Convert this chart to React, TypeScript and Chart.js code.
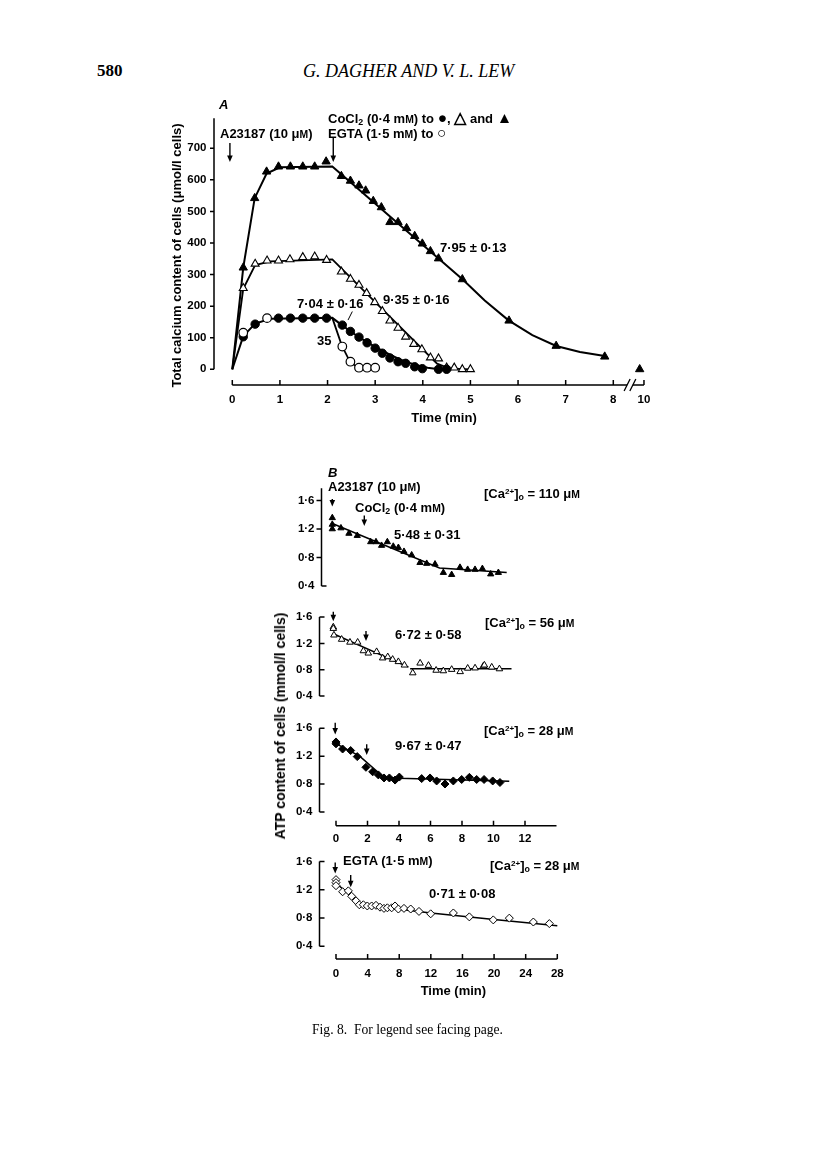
import React, { useEffect, useRef } from 'react';
import { Chart, registerables } from 'chart.js';
Chart.register(...registerables);

const SANS = '"Liberation Sans", Arial, sans-serif';
const SERIF = '"Liberation Serif", "Times New Roman", serif';

// ---------------- Panel A data (time in min, total Ca in µmol/l cells) ----------------
const aTriFilledTime = [0.23, 0.47, 0.72, 0.97, 1.22, 1.48, 1.73, 1.97, 2.29, 2.48, 2.66, 2.8, 2.96, 3.13, 3.31, 3.48, 3.66, 3.83, 3.99, 4.16, 4.33, 4.83, 5.81, 6.8, 7.82, 9.9];
const aTriFilledCa = [322, 542, 626, 642, 642, 642, 642, 658, 612, 597, 582, 566, 533, 513, 466, 466, 447, 422, 398, 374, 351, 285, 154, 74, 40, 0];
const aTriOpenTime = [0.23, 0.48, 0.73, 0.97, 1.21, 1.48, 1.73, 1.98, 2.29, 2.48, 2.66, 2.82, 2.99, 3.15, 3.31, 3.48, 3.64, 3.81, 3.98, 4.16, 4.33, 4.5, 4.66, 4.83, 5.0];
const aTriOpenCa = [257, 334, 344, 344, 348, 355, 357, 346, 309, 286, 267, 241, 212, 184, 154, 131, 103, 80, 63, 37, 34, 5, 5, 0, 0];
const aCircFilledTime = [0.23, 0.48, 0.97, 1.22, 1.48, 1.73, 1.98, 2.31, 2.48, 2.66, 2.83, 3.0, 3.15, 3.31, 3.48, 3.64, 3.83, 3.99, 4.33, 4.5];
const aCircFilledCa = [103, 143, 162, 162, 162, 162, 162, 140, 120, 102, 84, 67, 51, 36, 24, 19, 8, 2, 0, 0];
const aCircOpenTime = [0.23, 0.73, 2.31, 2.48, 2.66, 2.83, 3.0];
const aCircOpenCa = [116, 162, 72, 24, 5, 5, 5];

const aFitTriFilledTime = [0, 0.23, 0.47, 0.72, 1.0, 2.1, 4.33, 4.85, 5.3, 5.8, 6.3, 6.8, 7.3, 7.82];
const aFitTriFilledCa = [0, 322, 542, 620, 640, 642, 351, 283, 218, 155, 108, 74, 55, 42];
const aFitTriOpenTime = [0, 0.23, 0.48, 0.8, 2.1, 4.3, 4.55, 5.0];
const aFitTriOpenCa = [0, 255, 330, 342, 348, 18, 3, 0];
const aFitCircFilledTime = [0, 0.23, 0.48, 0.8, 2.1, 2.3, 2.5, 2.7, 2.9, 3.1, 3.3, 3.5, 3.7, 3.9, 4.1, 4.3, 4.5];
const aFitCircFilledCa = [0, 105, 145, 160, 163, 140, 118, 98, 80, 63, 47, 33, 21, 12, 5, 1, 0];
const aFitCircOpenTime = [2.1, 2.3, 2.45, 2.6, 2.75, 3.0];
const aFitCircOpenCa = [163, 75, 30, 8, 3, 3];
const aLeaderTime = [2.43, 2.52];
const aLeaderCa = [156, 183];

const aYTicks = [0, 100, 200, 300, 400, 500, 600, 700];
const aYTickLabels = ['0', '100', '200', '300', '400', '500', '600', '700'];
const aXTicks = [0, 1, 2, 3, 4, 5, 6, 7, 8, 10];
const aXTickLabels = ['0', '1', '2', '3', '4', '5', '6', '7', '8', '10'];

// ---------------- Panel B data (time in min, ATP in mmol/l cells) ----------------
const b1Time = [0, 0, 0, 0.54, 1.04, 1.56, 2.4, 2.73, 3.08, 3.44, 3.81, 4.13, 4.48, 4.96, 5.48, 5.9, 6.42, 6.94, 7.46, 7.98, 8.46, 8.92, 9.38, 9.9, 10.38];
const b1Atp = [1.356, 1.263, 1.2, 1.213, 1.137, 1.107, 1.019, 1.019, 0.968, 1.019, 0.956, 0.939, 0.884, 0.834, 0.728, 0.716, 0.707, 0.589, 0.56, 0.661, 0.632, 0.632, 0.644, 0.568, 0.589];
const b1FitTime = [0, 6.7, 10.9];
const b1FitAtp = [1.276, 0.655, 0.59];

const b2Time = [0, 0, 0.04, 0.51, 1.02, 1.49, 1.84, 2.14, 2.65, 3.02, 3.33, 3.63, 3.98, 4.35, 4.86, 5.31, 5.82, 6.29, 6.73, 7.24, 7.76, 8.22, 8.67, 9.18, 9.24, 9.69, 10.16];
const b2Atp = [1.448, 1.426, 1.326, 1.261, 1.217, 1.217, 1.087, 1.052, 1.074, 0.978, 0.996, 0.957, 0.922, 0.87, 0.752, 0.9, 0.865, 0.791, 0.783, 0.804, 0.77, 0.822, 0.826, 0.857, 0.87, 0.839, 0.813];
const b2FitSlopeTime = [0.1, 4.6];
const b2FitSlopeAtp = [1.335, 0.839];
const b2FitFlatTime = [4.7, 10.9];
const b2FitFlatAtp = [0.817, 0.817];

const b3Time = [0, 0, 0.42, 0.93, 1.35, 1.9, 2.33, 2.69, 3.05, 3.39, 3.75, 4.02, 5.44, 5.97, 6.39, 6.92, 7.45, 7.98, 8.47, 8.93, 9.4, 9.95, 10.41];
const b3Atp = [1.377, 1.404, 1.303, 1.281, 1.194, 1.041, 0.976, 0.932, 0.888, 0.888, 0.858, 0.901, 0.879, 0.888, 0.845, 0.801, 0.845, 0.866, 0.897, 0.866, 0.866, 0.845, 0.823];
const b3FitTime = [0, 1.5, 3.0, 4.0, 11.0];
const b3FitAtp = [1.38, 1.2, 0.905, 0.885, 0.84];

const b4Time = [0, 0, 0, 0.84, 1.56, 1.98, 2.53, 2.95, 3.46, 3.96, 4.51, 5.06, 5.57, 6.07, 6.5, 7.04, 7.47, 7.89, 8.6, 9.45, 10.5, 11.98, 14.85, 16.87, 19.9, 21.93, 24.97, 26.99];
const b4Atp = [1.343, 1.3, 1.257, 1.171, 1.184, 1.107, 1.043, 0.987, 0.987, 0.97, 0.97, 0.979, 0.953, 0.936, 0.944, 0.944, 0.97, 0.927, 0.936, 0.927, 0.893, 0.859, 0.871, 0.816, 0.773, 0.798, 0.743, 0.721];
const b4FitTime = [0, 1, 2, 3, 4, 6, 8, 12, 20, 28];
const b4FitAtp = [1.29, 1.2, 1.1, 1.0, 0.965, 0.945, 0.925, 0.87, 0.78, 0.69];

const bYTicks = [1.6, 1.2, 0.8, 0.4];
const bYTickLabels = ['1·6', '1·2', '0·8', '0·4'];
const b3XTicks = [0, 2, 4, 6, 8, 10, 12];
const b3XTickLabels = ['0', '2', '4', '6', '8', '10', '12'];
const b4XTicks = [0, 4, 8, 12, 16, 20, 24, 28];
const b4XTickLabels = ['0', '4', '8', '12', '16', '20', '24', '28'];

// broken time axis of panel A: 10 min sits just after 8 min
const toAxisA = (t: number) => (t <= 8.2 ? t : 8.644 - (10 - t) * 0.9);

// ---------------- helpers ----------------
type Cal = [number, number, number, number];
const valAt = (c: Cal, p: number) => c[1] + ((p - c[0]) * (c[3] - c[1])) / (c[2] - c[0]);
const pts = (xs: number[], ys: number[], map: (v: number) => number = (v) => v) =>
  xs.map((x, i) => ({ x: map(x), y: ys[i] }));

function markers(data: any[], style: string, filled: boolean, r: number, bw = 1) {
  return {
    data,
    showLine: false,
    pointStyle: style,
    pointRadius: r,
    pointHoverRadius: r,
    pointBackgroundColor: filled ? '#000' : '#fff',
    pointBorderColor: '#000',
    pointBorderWidth: bw,
    clip: false,
    order: 0,
  };
}
function fitLine(data: any[], w: number) {
  return {
    data,
    showLine: true,
    borderColor: '#000',
    borderWidth: w,
    pointRadius: 0,
    pointHoverRadius: 0,
    tension: 0,
    fill: false,
    clip: false,
    order: 1,
  };
}

interface PanelCfg {
  box: { left: number; top: number; width: number; height: number };
  area: { left: number; top: number; right: number; bottom: number };
  xCal: Cal;
  yCal: Cal;
  datasets: any[];
  yTicks: number[];
  yLabels: string[];
  yFont: number;
  yPad: number;
  yTitle?: { text: string; cx: number };
  xTicks?: number[];
  xLabels?: string[];
  xFont?: number;
  xPad?: number;
  xTitle?: { text: string; cy: number };
  yAxis: { from: number; to: number; len: number; dirs: number[] };
  xAxis?: { from: number; to: number; len: number; gap?: [number, number] };
  arrows: { x: number; y1: number; y2: number }[];
}

function makePlugin(cfg: PanelCfg) {
  return {
    id: 'paperAxes',
    afterDraw(chart: any) {
      const ctx = chart.ctx as CanvasRenderingContext2D;
      const xs = chart.scales.x;
      const ys = chart.scales.y;
      ctx.save();
      ctx.strokeStyle = '#000';
      ctx.fillStyle = '#000';
      ctx.lineWidth = 1.5;
      const ax = chart.chartArea.left;
      ctx.beginPath();
      ctx.moveTo(ax, ys.getPixelForValue(cfg.yAxis.from));
      ctx.lineTo(ax, ys.getPixelForValue(cfg.yAxis.to));
      cfg.yTicks.forEach((t, i) => {
        const py = ys.getPixelForValue(t);
        ctx.moveTo(ax, py);
        ctx.lineTo(ax + cfg.yAxis.dirs[i] * cfg.yAxis.len, py);
      });
      ctx.stroke();
      if (cfg.xAxis && cfg.xTicks) {
        const ay = chart.chartArea.bottom;
        const xa = cfg.xAxis;
        ctx.beginPath();
        if (xa.gap) {
          ctx.moveTo(xs.getPixelForValue(xa.from), ay);
          ctx.lineTo(xs.getPixelForValue(xa.gap[0]), ay);
          ctx.moveTo(xs.getPixelForValue(xa.gap[1]), ay);
          ctx.lineTo(xs.getPixelForValue(xa.to), ay);
        } else {
          ctx.moveTo(xs.getPixelForValue(xa.from), ay);
          ctx.lineTo(xs.getPixelForValue(xa.to), ay);
        }
        cfg.xTicks.forEach((t) => {
          const px = xs.getPixelForValue(t);
          ctx.moveTo(px, ay);
          ctx.lineTo(px, ay - xa.len);
        });
        ctx.stroke();
        if (xa.gap) {
          ctx.lineWidth = 1.3;
          ctx.beginPath();
          xa.gap.forEach((g) => {
            const px = xs.getPixelForValue(g);
            ctx.moveTo(px - 3, ay + 6);
            ctx.lineTo(px + 3, ay - 6);
          });
          ctx.stroke();
        }
      }
      cfg.arrows.forEach((a) => {
        const px = xs.getPixelForValue(a.x);
        const p1 = ys.getPixelForValue(a.y1);
        const p2 = ys.getPixelForValue(a.y2);
        ctx.lineWidth = 1.4;
        ctx.beginPath();
        ctx.moveTo(px, p1);
        ctx.lineTo(px, p2 - 4);
        ctx.stroke();
        ctx.beginPath();
        ctx.moveTo(px - 2.8, p2 - 6.5);
        ctx.lineTo(px + 2.8, p2 - 6.5);
        ctx.lineTo(px, p2);
        ctx.closePath();
        ctx.fill();
      });
      ctx.restore();
    },
  };
}

function buildConfig(cfg: PanelCfg): any {
  const { box, area } = cfg;
  const xMin = valAt(cfg.xCal, area.left);
  const xMax = valAt(cfg.xCal, area.right);
  const yMin = valAt(cfg.yCal, area.bottom);
  const yMax = valAt(cfg.yCal, area.top);
  const boxBottom = box.top + box.height;
  const titleFont = 13;
  const xTicks = cfg.xTicks || [];
  const xLabels = cfg.xLabels || [];
  return {
    type: 'scatter',
    data: { datasets: cfg.datasets },
    options: {
      responsive: false,
      animation: false,
      events: [],
      layout: {
        padding: { left: 0, top: area.top - box.top, right: box.left + box.width - area.right, bottom: 0 },
      },
      plugins: { legend: { display: false }, tooltip: { enabled: false } },
      scales: {
        x: {
          type: 'linear',
          position: 'bottom',
          min: xMin,
          max: xMax,
          grid: { display: false, drawTicks: false },
          border: { display: false },
          afterFit: (s: any) => {
            s.height = boxBottom - area.bottom;
          },
          afterBuildTicks: (s: any) => {
            s.ticks = xTicks.map((v) => ({ value: v }));
          },
          ticks: {
            display: xTicks.length > 0,
            autoSkip: false,
            maxRotation: 0,
            minRotation: 0,
            padding: cfg.xPad ?? 6,
            color: '#000',
            font: { family: SANS, size: cfg.xFont ?? 11.5, weight: 'bold' },
            callback: (_v: any, i: number) => xLabels[i],
          },
          title: cfg.xTitle
            ? {
                display: true,
                text: cfg.xTitle.text,
                color: '#000',
                font: { family: SANS, size: titleFont, weight: 'bold' },
                padding: { top: 0, bottom: boxBottom - cfg.xTitle.cy - (titleFont * 1.2) / 2 },
              }
            : { display: false },
        },
        y: {
          type: 'linear',
          position: 'left',
          min: yMin,
          max: yMax,
          grid: { display: false, drawTicks: false },
          border: { display: false },
          afterFit: (s: any) => {
            s.width = area.left - box.left;
          },
          afterBuildTicks: (s: any) => {
            s.ticks = cfg.yTicks.map((v) => ({ value: v }));
          },
          ticks: {
            autoSkip: false,
            padding: cfg.yPad,
            color: '#000',
            font: { family: SANS, size: cfg.yFont, weight: 'bold' },
            callback: (_v: any, i: number) => cfg.yLabels[i],
          },
          title: cfg.yTitle
            ? {
                display: true,
                text: cfg.yTitle.text,
                color: '#000',
                font: { family: SANS, size: titleFont, weight: 'bold' },
                padding: { top: cfg.yTitle.cx - box.left - (titleFont * 1.2) / 2, bottom: 0 },
              }
            : { display: false },
        },
      },
    },
    plugins: [makePlugin(cfg)],
  };
}

function Panel({ cfg }: { cfg: PanelCfg }) {
  const ref = useRef<HTMLCanvasElement>(null);
  useEffect(() => {
    if (!ref.current) return;
    const chart = new Chart(ref.current, buildConfig(cfg));
    return () => chart.destroy();
  }, []);
  return (
    <canvas
      ref={ref}
      width={cfg.box.width}
      height={cfg.box.height}
      style={{ position: 'absolute', left: cfg.box.left, top: cfg.box.top, width: cfg.box.width, height: cfg.box.height }}
    />
  );
}

// ---------------- panel configurations ----------------
const panelA: PanelCfg = {
  box: { left: 150, top: 92, width: 540, height: 345 },
  area: { left: 214, top: 126, right: 674, bottom: 385 },
  xCal: [232.3, 0, 613.3, 8],
  yCal: [369.3, 0, 148.3, 700],
  datasets: [
    markers(pts(aCircOpenTime, aCircOpenCa), 'circle', false, 4.3, 1.2),
    markers(pts(aCircFilledTime, aCircFilledCa), 'circle', true, 4.2),
    markers(pts(aTriOpenTime, aTriOpenCa), 'triangle', false, 4.6, 1.1),
    markers(pts(aTriFilledTime, aTriFilledCa, toAxisA), 'triangle', true, 4.8),
    fitLine(pts(aFitTriFilledTime, aFitTriFilledCa), 2),
    fitLine(pts(aFitTriOpenTime, aFitTriOpenCa), 1.8),
    fitLine(pts(aFitCircFilledTime, aFitCircFilledCa), 2),
    fitLine(pts(aFitCircOpenTime, aFitCircOpenCa), 1.8),
    fitLine(pts(aLeaderTime, aLeaderCa), 1),
  ],
  yTicks: aYTicks,
  yLabels: aYTickLabels,
  yFont: 11.5,
  yPad: 7.5,
  yTitle: { text: 'Total calcium content of cells (μmol/l cells)', cx: 177 },
  xTicks: aXTicks.map(toAxisA),
  xLabels: aXTickLabels,
  xFont: 11.5,
  xPad: 7.5,
  xTitle: { text: 'Time (min)', cy: 418 },
  yAxis: { from: 0, to: 795, len: -4, dirs: aYTicks.map(() => 1) },
  xAxis: { from: 0, to: toAxisA(10), len: 5, gap: [8.29, 8.41] },
  arrows: [
    { x: -0.05, y1: 717, y2: 657 },
    { x: 2.12, y1: 736, y2: 657 },
  ],
};

const bBox = (top: number, height: number) => ({ left: 280, top, width: 320, height });

const panelB1: PanelCfg = {
  box: bBox(470, 130),
  area: { left: 321.5, top: 480, right: 590, bottom: 593.3 },
  xCal: [332.3, 0, 364.3, 2],
  yCal: [498.3, 1.6, 593.3, 0.4],
  datasets: [markers(pts(b1Time, b1Atp), 'triangle', true, 3.6), fitLine(pts(b1FitTime, b1FitAtp), 1.5)],
  yTicks: bYTicks,
  yLabels: bYTickLabels,
  yFont: 11.5,
  yPad: 7,
  yAxis: { from: 0.4, to: 1.77, len: 5, dirs: [-1, -1, -1, 1] },
  arrows: [
    { x: 0, y1: 1.62, y2: 1.515 },
    { x: 2, y1: 1.39, y2: 1.24 },
  ],
};

const panelB2: PanelCfg = {
  box: bBox(598, 112),
  area: { left: 319.5, top: 603, right: 590, bottom: 701 },
  xCal: [333.3, 0, 366, 2],
  yCal: [609, 1.6, 701, 0.4],
  datasets: [
    markers(pts(b2Time, b2Atp), 'triangle', false, 3.8, 1),
    fitLine(pts(b2FitSlopeTime, b2FitSlopeAtp), 1.5),
    fitLine(pts(b2FitFlatTime, b2FitFlatAtp), 1.5),
  ],
  yTicks: bYTicks,
  yLabels: bYTickLabels,
  yFont: 11.5,
  yPad: 7,
  yAxis: { from: 0.4, to: 1.6, len: 5, dirs: [1, 1, 1, 1] },
  arrows: [
    { x: 0, y1: 1.68, y2: 1.535 },
    { x: 2, y1: 1.39, y2: 1.235 },
  ],
};

const panelB3: PanelCfg = {
  box: bBox(708, 142),
  area: { left: 319.5, top: 712, right: 590, bottom: 825.7 },
  xCal: [336, 0, 525, 12],
  yCal: [719, 1.6, 810.7, 0.4],
  datasets: [markers(pts(b3Time, b3Atp), 'rectRot', true, 4), fitLine(pts(b3FitTime, b3FitAtp), 1.5)],
  yTicks: bYTicks,
  yLabels: bYTickLabels,
  yFont: 11.5,
  yPad: 7,
  xTicks: b3XTicks,
  xLabels: b3XTickLabels,
  xFont: 11.5,
  xPad: 6,
  yAxis: { from: 0.4, to: 1.6, len: 5, dirs: [1, 1, 1, 1] },
  xAxis: { from: 0, to: 14, len: 5 },
  arrows: [
    { x: -0.05, y1: 1.68, y2: 1.51 },
    { x: 1.95, y1: 1.37, y2: 1.216 },
  ],
};

const panelB4: PanelCfg = {
  box: bBox(846, 160),
  area: { left: 319.5, top: 850, right: 587.3, bottom: 959 },
  xCal: [336, 0, 557.3, 28],
  yCal: [851.7, 1.6, 945, 0.4],
  datasets: [markers(pts(b4Time, b4Atp), 'rectRot', false, 4, 1), fitLine(pts(b4FitTime, b4FitAtp), 1.5)],
  yTicks: bYTicks,
  yLabels: bYTickLabels,
  yFont: 11.5,
  yPad: 7,
  xTicks: b4XTicks,
  xLabels: b4XTickLabels,
  xFont: 11.5,
  xPad: 7.5,
  xTitle: { text: 'Time (min)', cy: 991.7 },
  yAxis: { from: 0.4, to: 1.6, len: 5, dirs: [1, 1, 1, 1] },
  xAxis: { from: 0, to: 28, len: 5 },
  arrows: [
    { x: -0.1, y1: 1.585, y2: 1.43 },
    { x: 1.86, y1: 1.41, y2: 1.236 },
  ],
};

// ---------------- text helpers ----------------
const sm = (s: string) => <span style={{ fontSize: '0.8em' }}>{s}</span>;
const big = (s: string) => <span style={{ fontSize: '1.2em', lineHeight: 0 }}>{s}</span>;
const sub = (s: string) => (
  <span style={{ fontSize: '0.68em', position: 'relative', top: '0.25em' }}>{s}</span>
);
const sup = (s: string) => (
  <span style={{ fontSize: '0.62em', position: 'relative', top: '-0.45em' }}>{s}</span>
);

function Txt({ left, cy, size = 13, italic = false, children }: any) {
  return (
    <div
      style={{
        position: 'absolute',
        left,
        top: cy - size / 2,
        fontFamily: SANS,
        fontWeight: 'bold',
        fontStyle: italic ? 'italic' : 'normal',
        fontSize: size,
        lineHeight: `${size}px`,
        whiteSpace: 'nowrap',
        color: '#000',
      }}
    >
      {children}
    </div>
  );
}

const caLabel = (n: string) => (
  <>
    [Ca{sup('2+')}]{sub('o')} = {n} μ{sm('M')}
  </>
);

export default function App() {
  return (
    <div style={{ position: 'absolute', left: 0, top: 0, width: 816, height: 1166, background: '#fff', overflow: 'hidden' }}>
      <div style={{ position: 'absolute', left: 97, top: 62, fontFamily: SERIF, fontWeight: 'bold', fontSize: 17, lineHeight: '18px' }}>580</div>
      <div style={{ position: 'absolute', left: 303, top: 62, fontFamily: SERIF, fontStyle: 'italic', fontSize: 18, lineHeight: '18px', whiteSpace: 'nowrap' }}>
        G. DAGHER AND V. L. LEW
      </div>

      <Panel cfg={panelA} />
      <Panel cfg={panelB1} />
      <Panel cfg={panelB2} />
      <Panel cfg={panelB3} />
      <Panel cfg={panelB4} />

      {/* Panel A annotations */}
      <Txt left={219} cy={104} italic>A</Txt>
      <Txt left={220} cy={133}>A23187 (10 μ{sm('M')})</Txt>
      <Txt left={328} cy={118}>CoCl{sub('2')} (0·4 m{sm('M')}) to {big('●')}, {big('△')} and {big('▲')}</Txt>
      <Txt left={328} cy={133}>EGTA (1·5 m{sm('M')}) to {big('○')}</Txt>
      <Txt left={440} cy={247}>7·95 ± 0·13</Txt>
      <Txt left={383} cy={299}>9·35 ± 0·16</Txt>
      <Txt left={297} cy={303}>7·04 ± 0·16</Txt>
      <Txt left={317} cy={340}>35</Txt>

      {/* Panel B annotations */}
      <Txt left={328} cy={472} italic>B</Txt>
      <Txt left={328} cy={486}>A23187 (10 μ{sm('M')})</Txt>
      <Txt left={355} cy={507}>CoCl{sub('2')} (0·4 m{sm('M')})</Txt>
      <Txt left={394} cy={534}>5·48 ± 0·31</Txt>
      <Txt left={484} cy={493}>{caLabel('110')}</Txt>
      <Txt left={395} cy={634}>6·72 ± 0·58</Txt>
      <Txt left={485} cy={622}>{caLabel('56')}</Txt>
      <Txt left={395} cy={745}>9·67 ± 0·47</Txt>
      <Txt left={484} cy={730}>{caLabel('28')}</Txt>
      <Txt left={343} cy={860}>EGTA (1·5 m{sm('M')})</Txt>
      <Txt left={490} cy={865}>{caLabel('28')}</Txt>
      <Txt left={429} cy={893}>0·71 ± 0·08</Txt>

      <div
        style={{
          position: 'absolute',
          left: 280,
          top: 726,
          transform: 'translate(-50%, -50%) rotate(-90deg)',
          fontFamily: SANS,
          fontWeight: 'bold',
          fontSize: 14,
          lineHeight: '14px',
          whiteSpace: 'nowrap',
        }}
      >
        ATP content of cells (mmol/l cells)
      </div>

      <div style={{ position: 'absolute', left: 312, top: 1023, fontFamily: SERIF, fontSize: 13.6, lineHeight: '14px', whiteSpace: 'nowrap' }}>
        Fig. 8.&nbsp; For legend see facing page.
      </div>
    </div>
  );
}
